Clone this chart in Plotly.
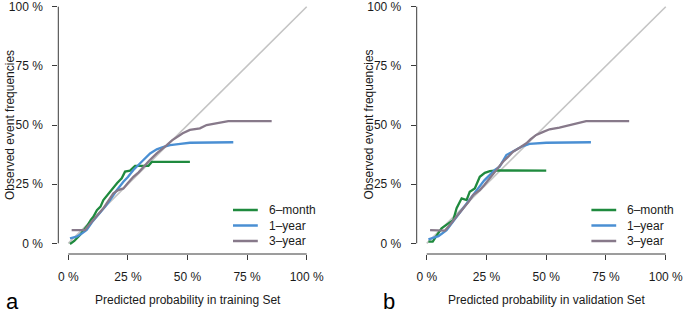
import plotly.graph_objects as go

W, H = 685, 315

# ---------------- data (percent) ----------------
series_names = ["6\u2013month", "1\u2013year", "3\u2013year"]
colors = ["#1f8a3e", "#4a8fd3", "#87798a"]

# training set (panel a)
train_6m_x = [0.7, 2.5, 4.9, 6.5, 8.0, 9.5, 10.5, 12.0, 13.5, 14.7, 16.0, 17.5, 18.9, 20.5, 22.4, 23.8, 25.9, 28.0, 33.6, 35.0, 51.0]
train_6m_y = [-0.3, 1.0, 3.5, 5.5, 7.5, 10.0, 11.2, 14.0, 15.5, 18.3, 20.0, 22.0, 23.9, 25.5, 27.5, 30.3, 30.7, 32.7, 32.7, 34.4, 34.4]
train_1y_x = [0.7, 3.5, 5.5, 7.7, 10.0, 13.3, 15.5, 17.5, 20.0, 23.1, 25.0, 27.3, 29.5, 31.5, 34.3, 37.1, 40.0, 42.7, 47.0, 51.0, 69.2]
train_1y_y = [2.1, 2.8, 4.0, 5.6, 9.0, 12.7, 15.5, 18.3, 22.0, 26.0, 28.0, 31.0, 33.0, 35.2, 38.0, 39.7, 40.8, 41.5, 42.0, 42.5, 42.7]
train_3y_x = [1.4, 7.0, 8.5, 10.5, 12.5, 14.7, 16.5, 18.9, 21.0, 23.1, 25.0, 27.3, 29.5, 31.5, 34.0, 37.1, 39.0, 41.3, 43.5, 45.5, 48.0, 51.0, 55.2, 58.0, 61.0, 63.6, 67.1, 85.3]
train_3y_y = [5.6, 5.6, 7.5, 9.8, 12.0, 14.8, 17.5, 21.1, 22.5, 23.2, 25.5, 28.1, 30.0, 32.4, 35.0, 38.0, 39.5, 41.5, 43.5, 45.0, 46.5, 47.9, 48.6, 50.0, 50.5, 51.0, 51.6, 51.6]

# validation set (panel b)
valid_6m_x = [0.7, 2.5, 4.0, 6.2, 8.5, 11.1, 12.5, 14.6, 16.7, 18.0, 20.1, 22.2, 24.3, 26.4, 29.2, 50.0]
valid_6m_y = [0.7, 0.7, 3.0, 6.3, 8.0, 9.8, 14.8, 19.0, 18.3, 21.8, 23.2, 28.1, 29.8, 30.5, 30.8, 30.7]
valid_1y_x = [0.7, 4.9, 8.3, 10.5, 12.5, 14.5, 16.7, 19.0, 21.5, 24.0, 26.4, 28.5, 30.5, 33.3, 35.5, 37.5, 40.0, 43.0, 50.0, 68.7]
valid_1y_y = [1.7, 3.0, 5.6, 8.5, 11.2, 14.0, 16.9, 20.0, 23.2, 26.5, 28.9, 31.0, 32.4, 37.3, 38.5, 39.7, 41.0, 42.0, 42.5, 42.7]
valid_3y_x = [1.4, 7.6, 9.5, 11.1, 13.0, 15.3, 17.5, 19.4, 22.2, 24.0, 26.4, 29.0, 31.9, 34.0, 36.1, 39.0, 41.7, 43.5, 45.8, 48.5, 51.4, 55.5, 60.0, 63.9, 66.7, 84.7]
valid_3y_y = [5.6, 5.4, 7.5, 9.8, 12.0, 14.8, 17.5, 20.4, 22.5, 24.5, 27.5, 31.0, 34.5, 36.5, 38.7, 40.5, 42.3, 44.0, 45.8, 47.0, 48.2, 48.9, 50.0, 51.0, 51.6, 51.6]

diag = [0, 100]
tick_vals = [0, 25, 50, 75, 100]
tick_text = ["0 %", "25 %", "50 %", "75 %", "100 %"]

x_titles = ["Predicted probability in training Set", "Predicted probability in validation Set"]
y_title = "Observed event frequencies"
panel_letters = ["a", "b"]

FONT = "Liberation Sans, Arial, Helvetica, sans-serif"
AX = "#3a3a3a"
TXT = "#1a1a1a"
FS = 12

fig = go.Figure()

panels = [
    ("x", "y", [(train_6m_x, train_6m_y), (train_1y_x, train_1y_y), (train_3y_x, train_3y_y)]),
    ("x2", "y2", [(valid_6m_x, valid_6m_y), (valid_1y_x, valid_1y_y), (valid_3y_x, valid_3y_y)]),
]

for xa, ya, curves in panels:
    fig.add_trace(go.Scatter(x=diag, y=diag, mode="lines", xaxis=xa, yaxis=ya,
                             line=dict(color="#c4c4c4", width=1.6), showlegend=False, hoverinfo="skip"))
    for (cx, cy), name, col in zip(curves, series_names, colors):
        fig.add_trace(go.Scatter(x=cx, y=cy, mode="lines", xaxis=xa, yaxis=ya, name=name,
                                 line=dict(color=col, width=2.3), showlegend=False))

# geometry (pixels)
def px(x):
    return x / W

def py(y):
    return (H - y) / H

y_dom = [py(254), py(4)]
y_rng = [-4.52, 101.14]
left_dom = [px(58.3), px(58.3 + 108.4 * 2.384)]
right_dom = [px(416.7), px(416.7 + 108.4 * 2.39)]
x_rng = [-4.2, 104.2]

axis_common = dict(showgrid=False, zeroline=False, showline=False, ticks="outside",
                   ticklen=5, tickwidth=1, tickcolor=AX, tickvals=tick_vals, ticktext=tick_text,
                   tickfont=dict(family=FONT, size=FS, color=TXT), automargin=False, fixedrange=True,
                   ticklabeloverflow="allow")

fig.update_layout(
    template="none",
    width=W, height=H,
    margin=dict(l=0, r=0, t=0, b=0, autoexpand=False),
    paper_bgcolor="white", plot_bgcolor="white",
    showlegend=False,
    xaxis=dict(domain=left_dom, range=x_rng, anchor="y", ticklabelstandoff=7, **axis_common),
    yaxis=dict(domain=y_dom, range=y_rng, anchor="x", ticklabelstandoff=7, **axis_common),
    xaxis2=dict(domain=right_dom, range=x_rng, anchor="y2", ticklabelstandoff=7, **axis_common),
    yaxis2=dict(domain=y_dom, range=y_rng, anchor="x2", ticklabelstandoff=7, **axis_common),
)

shapes = []
annotations = []
for i, (xa, ya) in enumerate([("x", "y"), ("x2", "y2")]):
    # R-style axis lines spanning 0..100 only
    shapes.append(dict(type="line", xref=xa, yref=f"{ya} domain", x0=0, x1=100, y0=0, y1=0,
                       line=dict(color=AX, width=1)))
    shapes.append(dict(type="line", xref=f"{xa} domain", yref=ya, x0=0, x1=0, y0=0, y1=100,
                       line=dict(color=AX, width=1)))

    x0px = 68.3 if i == 0 else 426.7
    # axis titles
    annotations.append(dict(text=x_titles[i], xref="paper", yref="paper",
                            x=px(187.5 if i == 0 else 546.5), y=py(300), showarrow=False,
                            xanchor="center", yanchor="middle",
                            font=dict(family=FONT, size=FS, color=TXT)))
    annotations.append(dict(text=y_title, xref="paper", yref="paper",
                            x=px(10 if i == 0 else 368.5), y=py(125), showarrow=False, textangle=-90,
                            xanchor="center", yanchor="middle",
                            font=dict(family=FONT, size=FS, color=TXT)))
    annotations.append(dict(text=panel_letters[i], xref="paper", yref="paper",
                            x=px(12 if i == 0 else 389), y=py(301), showarrow=False,
                            xanchor="center", yanchor="middle",
                            font=dict(family=FONT, size=22, color="#000000")))
    # legend (drawn manually)
    for k, (name, col) in enumerate(zip(series_names, colors)):
        ypix = 210 + 15.5 * k
        shapes.append(dict(type="line", xref="paper", yref="paper",
                           x0=px(x0px + 164.7), x1=px(x0px + 189.5), y0=py(ypix), y1=py(ypix),
                           line=dict(color=col, width=2.5)))
        annotations.append(dict(text=name, xref="paper", yref="paper",
                                x=px(x0px + 198.5), y=py(ypix), showarrow=False,
                                xanchor="left", yanchor="middle",
                                font=dict(family=FONT, size=FS, color=TXT)))

fig.update_layout(shapes=shapes, annotations=annotations)

fig.write_html("out.html", config={"displayModeBar": False},
               post_script="document.body.style.margin='0';document.body.style.overflow='hidden';")
